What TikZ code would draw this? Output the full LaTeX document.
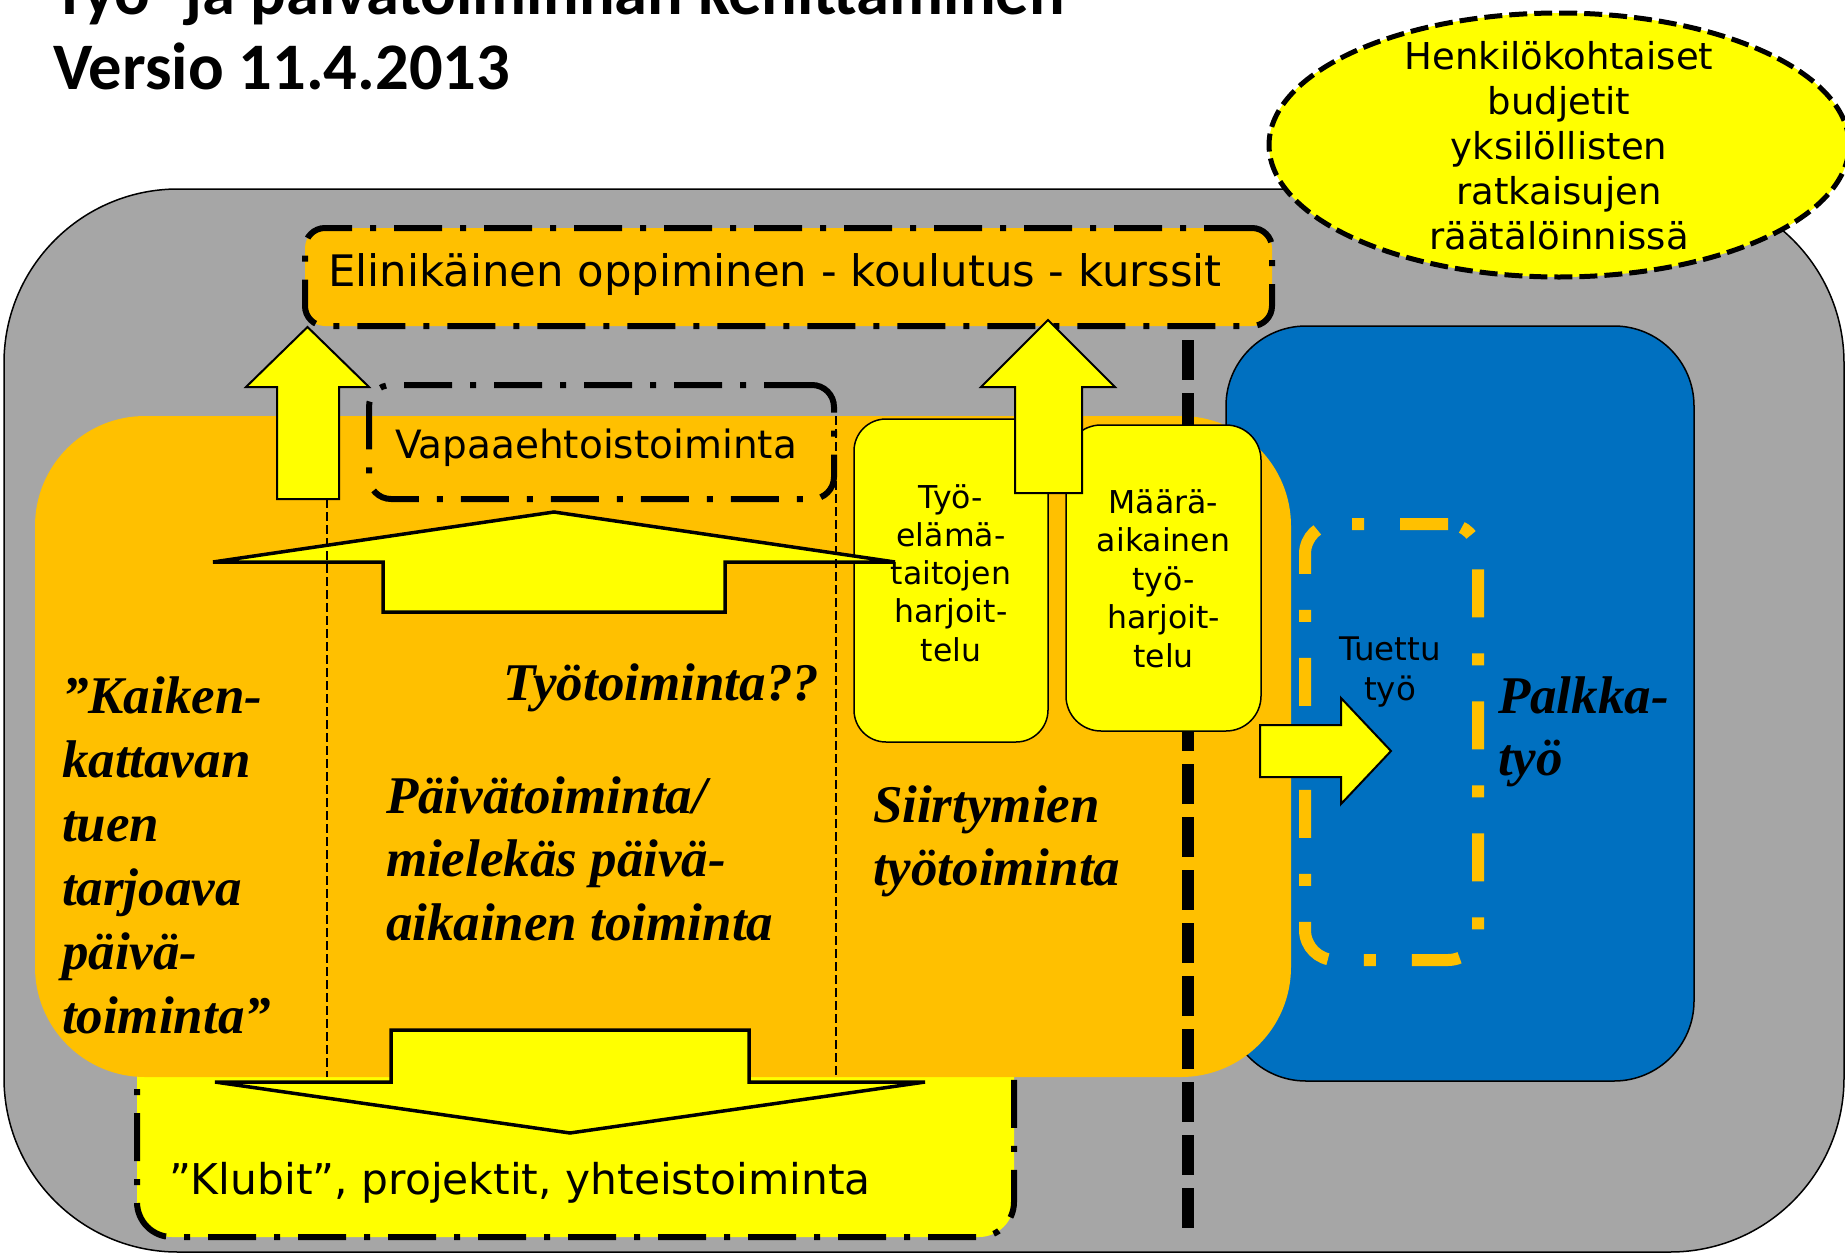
\documentclass[tikz,border=0pt]{standalone}
\usepackage{fontspec}
\setmainfont{DejaVu Sans}
\newfontfamily\timesf{Liberation Serif}
\newfontfamily\calf{Carlito}
\usetikzlibrary{shapes.geometric}
\definecolor{pgray}{HTML}{A6A6A6}
\definecolor{porange}{HTML}{FFC000}
\definecolor{pyellow}{HTML}{FFFF00}
\definecolor{pblue}{HTML}{0070C0}
\newcommand{\setfs}[2]{\fontsize{#1}{#2}\selectfont}
\begin{document}
\begin{tikzpicture}[x=1pt,y=-1pt,
  every node/.style={inner sep=0pt, outer sep=0pt},
  frame/.style={draw=black, line width=1.5pt},
  ldashdot/.style={draw=black, line width=6pt, dash pattern=on 48pt off 18pt on 6pt off 18pt},
  odashdot/.style={draw=porange, line width=12pt, dash pattern=on 48pt off 36pt on 12pt off 36pt},
  elldash/.style={draw=black, line width=5pt, dash pattern=on 18pt off 7pt},
  vdash/.style={draw=black, line width=12pt, dash pattern=on 40pt off 13pt},
  thindash/.style={draw=black, line width=2.5pt, dash pattern=on 9pt off 4pt},
  blockarrow/.style={draw=black, fill=pyellow, line width=2pt, line join=miter},
  bigarrow/.style={draw=black, fill=pyellow, line width=3.5pt, line join=miter}
]
\useasboundingbox (0,0) rectangle (1845,1253);

% title
\node[anchor=base west] (title1) at (53,14) {\calf\bfseries\setfs{66.5}{80}Työ- ja päivätoiminnan kehittäminen};
\node[anchor=base west] (title2) at (53,89) {\calf\bfseries\setfs{66.5}{80}Versio 11.4.2013};

% big gray area
\node[frame, fill=pgray, rounded corners=174pt, minimum width=1840pt, minimum height=1063pt] (gray) at (924,720.5) {};

% ellipse
\node[ellipse, elldash, fill=pyellow, minimum width=580pt, minimum height=264pt] (budget) at (1559,145) {};
\node[anchor=base] (budgettext) at (1559,69) {\parbox[t]{420pt}{\centering\setfs{37}{45}Henkilökohtaiset\\budjetit\\yksilöllisten\\ratkaisujen\\räätälöinnissä}};

% lifelong learning box
\node[ldashdot, fill=porange, rounded corners=20pt, minimum width=967pt, minimum height=98pt] (elin) at (788.5,277) {};
\node[anchor=base west] (elintext) at (328,286) {\setfs{43.4}{52}Elinikäinen oppiminen - koulutus - kurssit};

% blue
\node[frame, fill=pblue, rounded corners=80pt, minimum width=468pt, minimum height=755pt] (blue) at (1460,703.5) {};
\node[odashdot, rounded corners=30pt, minimum width=173pt, minimum height=436pt] (tuettu) at (1391.5,742) {};

% clubs box
\node[ldashdot, fill=pyellow, rounded corners=35pt, minimum width=877pt, minimum height=197pt] (klubit) at (575.5,1138.5) {};

% orange area
\node[fill=porange, rounded corners=110pt, minimum width=1256pt, minimum height=661pt] (orange) at (663,746.5) {};

% vertical thick dashed line
\coordinate (vtop) at (1188,340);
\coordinate (vbot) at (1188,1233);
\draw[vdash] (vtop) -- (vbot);

% small yellow boxes
\node[frame, fill=pyellow, rounded corners=32pt, minimum width=194pt, minimum height=323pt] (tyoel) at (951,580.5) {};
\node[frame, fill=pyellow, rounded corners=35pt, minimum width=195pt, minimum height=306pt] (maara) at (1163.5,578) {};

% big up arrow
\draw[bigarrow] (383,612) -- (383,562) -- (213,562) -- (554,512) -- (895,562) -- (725,562) -- (725,612) -- cycle;

% thin dashed lines
\coordinate (l1t) at (327,499);
\coordinate (l1b) at (327,1077);
\coordinate (l2t) at (836,416);
\coordinate (l2b) at (836,1077);
\draw[thindash] (l1t) -- (l1b);
\draw[thindash] (l2t) -- (l2b);

% up arrows
\draw[blockarrow] (277,499) -- (277,387) -- (246,387) -- (307.5,327) -- (369,387) -- (339,387) -- (339,499) -- cycle;
\draw[blockarrow] (1015,493) -- (1015,387) -- (981,387) -- (1048,320) -- (1115,387) -- (1082,387) -- (1082,493) -- cycle;

% voluntary box
\node[ldashdot, rounded corners=22pt, minimum width=465pt, minimum height=114pt] (vapaa) at (601.5,442) {};
\node[anchor=base west] (vapaatext) at (395,458) {\setfs{39}{47}Vapaaehtoistoiminta};

% right arrow
\draw[blockarrow] (1260,725) -- (1341,725) -- (1341,698) -- (1391,751) -- (1341,804) -- (1341,777) -- (1260,777) -- cycle;

% down arrow
\draw[bigarrow] (391,1030) -- (749,1030) -- (749,1082) -- (925,1082) -- (570,1133) -- (215,1082) -- (391,1082) -- cycle;

% texts
\node[anchor=base west] (klubittext) at (169,1194) {\setfs{42.4}{52}”Klubit”, projektit, yhteistoiminta};
\node[anchor=base] (tyoeltext) at (951,508) {\parbox[t]{190pt}{\centering\setfs{31.5}{38.3}Työ-\\elämä-\\taitojen\\harjoit-\\telu}};
\node[anchor=base] (maaratext) at (1163.5,513) {\parbox[t]{190pt}{\centering\setfs{31.5}{38.5}Määrä-\\aikainen\\työ-\\harjoit-\\telu}};
\node[anchor=base] (tuettutext) at (1390,660) {\parbox[t]{160pt}{\centering\setfs{32.5}{40}Tuettu\\työ}};
\node[anchor=base west] (palkka) at (1498,713) {\parbox[t]{250pt}{\raggedright\timesf\bfseries\itshape\setfs{53}{62}Palkka-\\työ}};
\node[anchor=base west] (kaiken) at (62,713) {\parbox[t]{300pt}{\raggedright\timesf\bfseries\itshape\setfs{53}{64}”Kaiken-\\kattavan\\tuen\\tarjoava\\päivä-\\toiminta”}};
\node[anchor=base west] (tyotoim) at (503,700) {\timesf\bfseries\itshape\setfs{53}{64}Työtoiminta??};
\node[anchor=base west] (paiva) at (386,813) {\parbox[t]{500pt}{\raggedright\timesf\bfseries\itshape\setfs{53}{63.5}Päivätoiminta/\\mielekäs päivä-\\aikainen toiminta}};
\node[anchor=base west] (siirt) at (873,822) {\parbox[t]{400pt}{\raggedright\timesf\bfseries\itshape\setfs{53}{63}Siirtymien\\työtoiminta}};
\end{tikzpicture}
\end{document}
